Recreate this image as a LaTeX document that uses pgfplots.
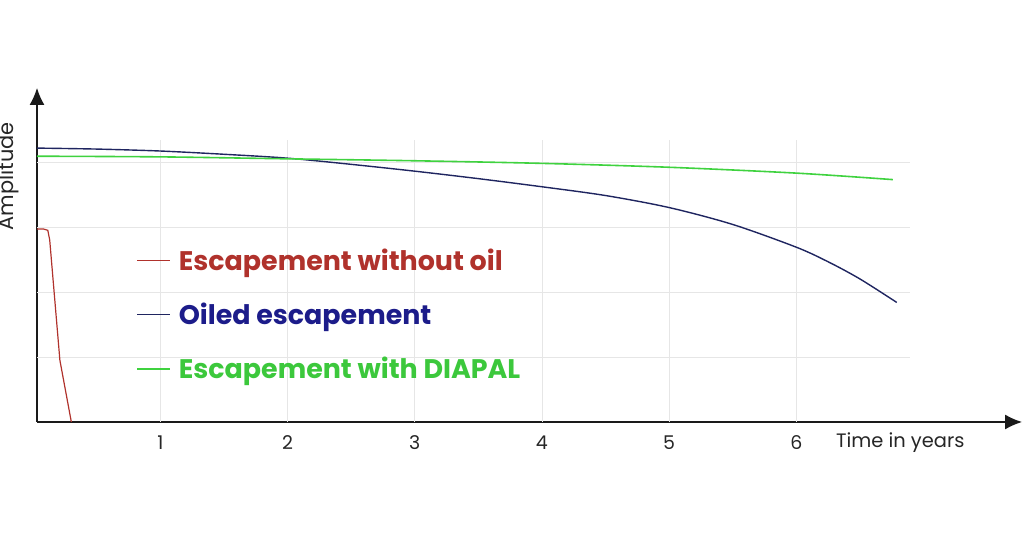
\documentclass[border=0pt]{standalone}
\usepackage{fontspec}
\setmainfont{Poppins}
\usepackage{pgfplots}
\pgfplotsset{compat=1.18}
\usetikzlibrary{arrows.meta}
\definecolor{redc}{HTML}{B0322C}
\definecolor{bluec}{HTML}{1F2560}
\definecolor{bluet}{HTML}{1C1C8A}
\definecolor{greenc}{HTML}{3FD23F}
\definecolor{greent}{HTML}{3CC83C}
\definecolor{gridc}{HTML}{E6E6E6}
\definecolor{axc}{HTML}{1A1A1A}
\begin{document}
\begin{tikzpicture}[x=1bp,y=1bp]
\useasboundingbox (0,0) rectangle (1024,546);
\begin{axis}[
  at={(37bp,124bp)}, anchor=south west,
  scale only axis, width=985bp, height=334bp,
  xmin=0.03, xmax=7.775, ymin=0, ymax=5.14,
  axis lines=left,
  axis line style={axc, line width=1.3bp, -{Latex[length=17bp,width=15bp]}},
  xtick={1,2,3,4,5,6}, xticklabels={1,2,3,4,5,6},
  ytick=\empty,
  major tick length=0pt,
  xticklabel style={font=\fontsize{19}{21}\selectfont, text=black!85, anchor=center, yshift=-21bp},
  xlabel={Time in years},
  xlabel style={at={(axis description cs:0.811,0)}, anchor=west, yshift=-21bp, inner sep=0pt, font=\fontsize{19.5}{21}\selectfont, text=black!85},
  ylabel={Amplitude},
  ylabel style={at={(axis description cs:-0.0294,0.735)}, anchor=center, inner sep=0pt, font=\fontsize{21}{23}\selectfont, text=black!85},
  clip=false,
  legend style={at={(0.0975,0.530)}, anchor=north west, draw=none, fill=none,
    font=\fontsize{27}{31}\selectfont\bfseries, row sep=27bp,
    nodes={inner sep=2bp}},
  legend cell align=left,
  legend image code/.code={\draw[#1] (0bp,0bp) -- (33bp,0bp);},
]
% grid
\foreach \i in {1,...,6} {\edef\tmp{\noexpand\draw[gridc, line width=0.8bp] (axis cs:\i,0) -- (axis cs:\i,4.34);}\tmp}
\foreach \j in {1,...,4} {\edef\tmp{\noexpand\draw[gridc, line width=0.8bp] (axis cs:0.03,\j) -- (axis cs:6.895,\j);}\tmp}

\addplot[redc, line width=1.2bp] coordinates {
 (0.03,2.97) (0.08,2.97) (0.115,2.95) (0.13,2.80) (0.21,0.95) (0.30,0)
};
\addlegendentry{\hspace{6bp}\textcolor{redc}{Escapement without oil}}
\addplot[bluec, line width=1.4bp, smooth, tension=0.5] coordinates {
 (0.03,4.215) (0.5,4.20) (1.0,4.17) (1.5,4.12) (2.0,4.06) (2.5,3.965) (3.0,3.86) (3.5,3.745) (4.0,3.62) (4.5,3.485) (5.0,3.30) (5.5,3.04) (6.0,2.69) (6.25,2.466) (6.5,2.202) (6.79,1.84)
};
\addlegendentry{\hspace{6bp}\textcolor{bluet}{Oiled escapement}}
\addplot[greenc, line width=1.6bp, smooth] coordinates {
 (0.03,4.09) (1.0,4.08) (2.0,4.05) (3.0,4.02) (4.0,3.98) (5.0,3.92) (6.0,3.83) (6.76,3.73)
};
\addlegendentry{\hspace{6bp}\textcolor{greent}{Escapement with DIAPAL}}
\end{axis}
\end{tikzpicture}
\end{document}
